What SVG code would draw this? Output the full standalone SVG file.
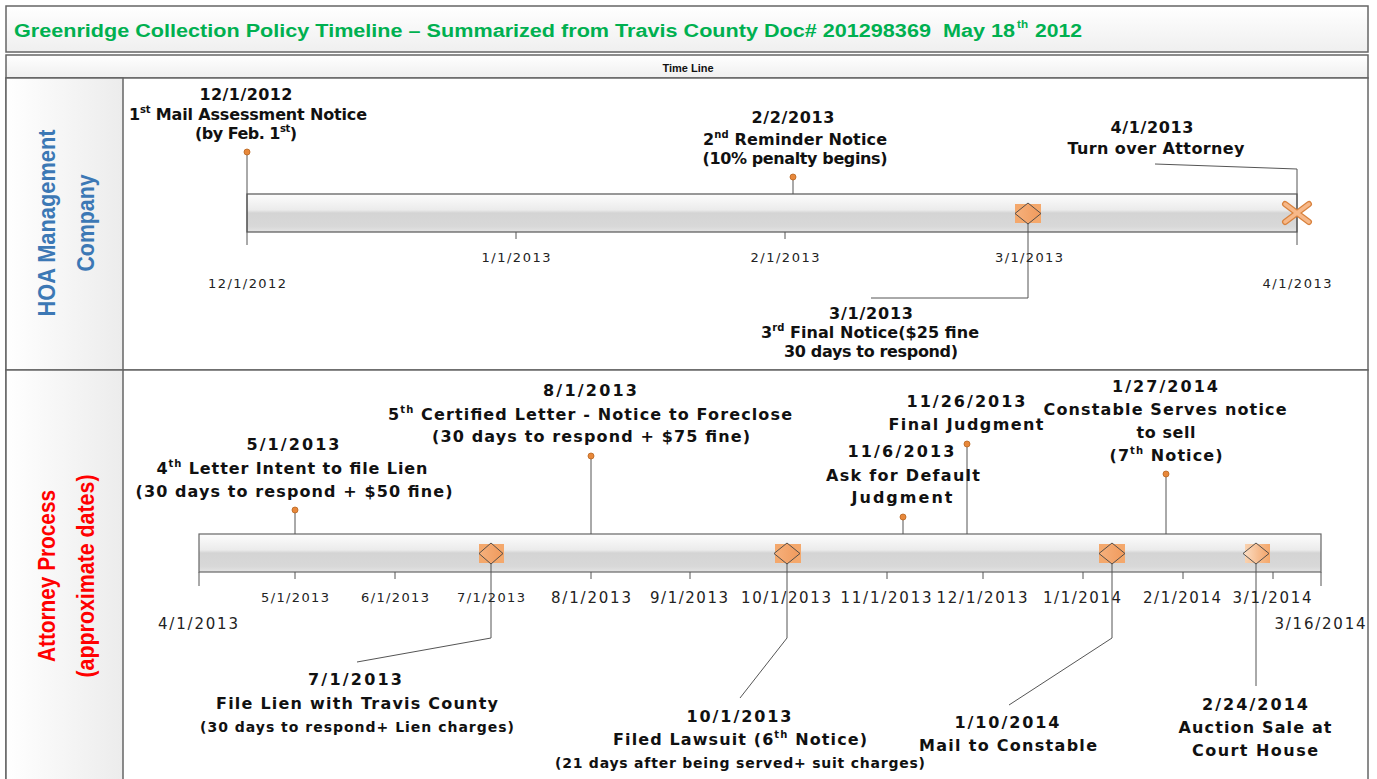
<svg xmlns="http://www.w3.org/2000/svg" width="1377" height="779" viewBox="0 0 1377 779">
<style>
.ev{font-family:"DejaVu Sans",Verdana,sans-serif;font-weight:bold;font-size:16px;fill:#111;text-anchor:middle}
.evs{font-family:"DejaVu Sans",Verdana,sans-serif;font-weight:bold;font-size:14px;fill:#111;text-anchor:middle}
.sup{font-size:10px}
.tk{font-family:"DejaVu Sans",Verdana,sans-serif;font-size:13px;fill:#222;text-anchor:middle}
.tkb{font-family:"DejaVu Sans",Verdana,sans-serif;font-size:15px;fill:#222;text-anchor:middle}
.lane{font-family:"Liberation Sans",Arial,sans-serif;font-weight:bold;font-size:23px;text-anchor:middle}
.ttl{font-family:"Liberation Sans",Arial,sans-serif;font-weight:bold;fill:#00B050}
.cn{stroke:#555;stroke-width:1;fill:none}
.frame{stroke:#666;stroke-width:1.5}
.dot{fill:#E8883A;stroke:#B8651F;stroke-width:0.8}
.sq{fill:#F4A86C}
.dm{fill:url(#dmg);stroke:#444;stroke-width:0.9}
</style>
<defs>
<linearGradient id="bar" x1="0" y1="0" x2="0" y2="1">
<stop offset="0" stop-color="#fdfdfd"/>
<stop offset="0.42" stop-color="#ebebeb"/>
<stop offset="0.5" stop-color="#d4d4d4"/>
<stop offset="0.85" stop-color="#d8d8d8"/>
<stop offset="1" stop-color="#e4e4e4"/>
</linearGradient>
<linearGradient id="hdr" x1="0" y1="0" x2="0" y2="1">
<stop offset="0" stop-color="#ffffff"/>
<stop offset="1" stop-color="#efefef"/>
</linearGradient>
<linearGradient id="col" x1="0" y1="0" x2="1" y2="0">
<stop offset="0" stop-color="#ffffff"/>
<stop offset="1" stop-color="#ececec"/>
</linearGradient>
<linearGradient id="dmg" x1="0" y1="0" x2="1" y2="0">
<stop offset="0" stop-color="#F6B17D"/>
<stop offset="1" stop-color="#F09A5C"/>
</linearGradient>
<linearGradient id="dml" x1="0" y1="0" x2="1" y2="0">
<stop offset="0" stop-color="#FBE0C8"/>
<stop offset="1" stop-color="#F3A469"/>
</linearGradient>
<linearGradient id="sql" x1="0" y1="0" x2="1" y2="0">
<stop offset="0" stop-color="#F9D2B0"/>
<stop offset="1" stop-color="#F4A86C"/>
</linearGradient>
</defs>

<rect width="1377" height="779" fill="#ffffff"/>

<g id="frame">
<rect x="6" y="6" width="1362" height="46" fill="url(#hdr)" class="frame"/>
<rect x="6" y="55" width="1362" height="23" fill="url(#hdr)" class="frame"/>
<rect x="6" y="78" width="1362" height="292" fill="#ffffff" class="frame"/>
<rect x="6" y="370" width="1362" height="420" fill="#ffffff" class="frame"/>
<rect x="6" y="78" width="117" height="292" fill="url(#col)" class="frame"/>
<rect x="6" y="370" width="117" height="420" fill="url(#col)" class="frame"/>
</g>

<g id="title">
<text class="ttl" x="14" y="37" xml:space="preserve" font-size="18" textLength="1001" lengthAdjust="spacingAndGlyphs">Greenridge Collection Policy Timeline – Summarized from Travis County Doc# 201298369  May 18</text>
<text class="ttl" x="1017" y="28" font-size="11" textLength="11" lengthAdjust="spacingAndGlyphs">th</text>
<text class="ttl" x="1035" y="37" font-size="18" textLength="47" lengthAdjust="spacingAndGlyphs">2012</text>
<text x="688" y="72" text-anchor="middle" font-family="Liberation Sans, Arial, sans-serif" font-weight="bold" font-size="11" fill="#111">Time Line</text>
</g>

<g id="lane-hoa">
<text class="lane" fill="#3C78B5" transform="translate(55,223) rotate(-90)" textLength="187" lengthAdjust="spacingAndGlyphs">HOA Management</text>
<text class="lane" fill="#3C78B5" transform="translate(94,223) rotate(-90)" textLength="97" lengthAdjust="spacingAndGlyphs">Company</text>
</g>
<g id="lane-attorney">
<text class="lane" fill="#FF0000" transform="translate(55,576) rotate(-90)" textLength="172" lengthAdjust="spacingAndGlyphs">Attorney Process</text>
<text class="lane" fill="#FF0000" transform="translate(94,576) rotate(-90)" textLength="203" lengthAdjust="spacingAndGlyphs">(approximate dates)</text>
</g>

<g id="bar-top">
<rect x="247" y="194" width="1050" height="38" fill="url(#bar)" stroke="#555" stroke-width="1.2"/>
</g>
<g id="bar-bottom">
<rect x="199" y="534" width="1122" height="38" fill="url(#bar)" stroke="#666" stroke-width="1.2"/>
</g>

<g id="connectors">
<line class="cn" x1="247" y1="152" x2="247" y2="245"/>
<line class="cn" x1="516" y1="232" x2="516" y2="239"/>
<line class="cn" x1="793" y1="177" x2="793" y2="194"/>
<line class="cn" x1="785" y1="232" x2="785" y2="239"/>
<polyline class="cn" points="1028,223 1028,298 871,298"/>
<polyline class="cn" points="1155,164 1297,169 1297,245"/>

<line class="cn" x1="199" y1="572" x2="199" y2="586"/>
<line class="cn" x1="1321" y1="572" x2="1321" y2="586"/>
<line class="cn" x1="295" y1="572" x2="295" y2="579"/>
<line class="cn" x1="395" y1="572" x2="395" y2="579"/>
<line class="cn" x1="591" y1="572" x2="591" y2="579"/>
<line class="cn" x1="690" y1="572" x2="690" y2="579"/>
<line class="cn" x1="887" y1="572" x2="887" y2="579"/>
<line class="cn" x1="983" y1="572" x2="983" y2="579"/>
<line class="cn" x1="1083" y1="572" x2="1083" y2="579"/>
<line class="cn" x1="1183" y1="572" x2="1183" y2="579"/>
<line class="cn" x1="1273" y1="572" x2="1273" y2="579"/>

<line class="cn" x1="295" y1="510" x2="295" y2="534"/>
<line class="cn" x1="591" y1="456" x2="591" y2="534"/>
<line class="cn" x1="903" y1="517" x2="903" y2="534"/>
<line class="cn" x1="967" y1="444" x2="967" y2="534"/>
<line class="cn" x1="1166" y1="474" x2="1166" y2="534"/>

<polyline class="cn" points="491,563 491,638 357,662"/>
<polyline class="cn" points="787,563 787,638 740,698"/>
<polyline class="cn" points="1112,563 1112,638 1009,705"/>
<line class="cn" x1="1256" y1="563" x2="1256" y2="686"/>
</g>

<g id="ticks">
<text class="tk" x="247" y="288" textLength="78" lengthAdjust="spacing">12/1/2012</text>
<text class="tk" x="516" y="262" textLength="69" lengthAdjust="spacing">1/1/2013</text>
<text class="tk" x="785" y="262" textLength="69" lengthAdjust="spacing">2/1/2013</text>
<text class="tk" x="1029" y="262" textLength="68" lengthAdjust="spacing">3/1/2013</text>
<text class="tk" x="1297" y="288" textLength="69" lengthAdjust="spacing">4/1/2013</text>

<text class="tkb" x="198" y="629" textLength="80" lengthAdjust="spacing">4/1/2013</text>
<text class="tk" x="295" y="602" textLength="68" lengthAdjust="spacing">5/1/2013</text>
<text class="tk" x="395" y="602" textLength="68" lengthAdjust="spacing">6/1/2013</text>
<text class="tk" x="491" y="602" textLength="68" lengthAdjust="spacing">7/1/2013</text>
<text class="tkb" x="591" y="603" textLength="80" lengthAdjust="spacing">8/1/2013</text>
<text class="tkb" x="689" y="603" textLength="78" lengthAdjust="spacing">9/1/2013</text>
<text class="tkb" x="786" y="603" textLength="90" lengthAdjust="spacing">10/1/2013</text>
<text class="tkb" x="886" y="603" textLength="91" lengthAdjust="spacing">11/1/2013</text>
<text class="tkb" x="982" y="603" textLength="91" lengthAdjust="spacing">12/1/2013</text>
<text class="tkb" x="1082" y="603" textLength="78" lengthAdjust="spacing">1/1/2014</text>
<text class="tkb" x="1182" y="603" textLength="78" lengthAdjust="spacing">2/1/2014</text>
<text class="tkb" x="1272" y="603" textLength="79" lengthAdjust="spacing">3/1/2014</text>
<text class="tkb" x="1320" y="629" textLength="91" lengthAdjust="spacing">3/16/2014</text>
</g>

<g id="ev-20121201">
<circle class="dot" cx="247" cy="152" r="3"/>
<text class="ev" x="246" y="100" textLength="93" lengthAdjust="spacing">12/1/2012</text>
<text class="ev" x="248" y="120" textLength="238" lengthAdjust="spacing">1<tspan class="sup" dy="-7">st</tspan><tspan dy="7"> Mail Assessment Notice</tspan></text>
<text class="ev" x="246" y="139" textLength="102" lengthAdjust="spacing">(by Feb. 1<tspan class="sup" dy="-7">st</tspan><tspan dy="7">)</tspan></text>
</g>
<g id="ev-20130202">
<circle class="dot" cx="793" cy="177" r="3"/>
<text class="ev" x="793" y="123" textLength="83" lengthAdjust="spacing">2/2/2013</text>
<text class="ev" x="795" y="145" textLength="184" lengthAdjust="spacing">2<tspan class="sup" dy="-7">nd</tspan><tspan dy="7"> Reminder Notice</tspan></text>
<text class="ev" x="795" y="164" textLength="185" lengthAdjust="spacing">(10% penalty begins)</text>
</g>
<g id="ev-20130301">
<rect class="sq" x="1015" y="204" width="26" height="19"/>
<polygon class="dm" points="1028,203 1041,213.5 1028,224 1015,213.5"/>
<text class="ev" x="871" y="319" textLength="84" lengthAdjust="spacing">3/1/2013</text>
<text class="ev" x="870" y="338" textLength="218" lengthAdjust="spacing">3<tspan class="sup" dy="-7">rd</tspan><tspan dy="7"> Final Notice($25 fine</tspan></text>
<text class="ev" x="871" y="357" textLength="174" lengthAdjust="spacing">30 days to respond)</text>
</g>
<g id="ev-20130401">
<path d="M1285,204 L1309,222 M1309,204 L1285,222" stroke="#D8823E" stroke-width="6" stroke-linecap="round" fill="none"/>
<path d="M1285,204 L1309,222 M1309,204 L1285,222" stroke="#F7B888" stroke-width="3.5" stroke-linecap="round" fill="none"/>
<text class="ev" x="1152" y="133" textLength="83" lengthAdjust="spacing">4/1/2013</text>
<text class="ev" x="1156" y="154" textLength="177" lengthAdjust="spacing">Turn over Attorney</text>
</g>

<g id="ev-20130501">
<circle class="dot" cx="295" cy="510" r="3"/>
<text class="ev" x="293" y="450" textLength="93" lengthAdjust="spacing">5/1/2013</text>
<text class="ev" x="292" y="474" textLength="271" lengthAdjust="spacing">4<tspan class="sup" dy="-7">th</tspan><tspan dy="7"> Letter Intent to file Lien</tspan></text>
<text class="ev" x="294" y="497" textLength="317" lengthAdjust="spacing">(30 days to respond + $50 fine)</text>
</g>
<g id="ev-20130701">
<rect class="sq" x="479" y="544" width="25" height="19"/>
<polygon class="dm" points="491,543 503,553.5 491,564 479,553.5"/>
<text class="ev" x="355" y="685" textLength="94" lengthAdjust="spacing">7/1/2013</text>
<text class="ev" x="357" y="709" textLength="282" lengthAdjust="spacing">File Lien with Travis County</text>
<text class="evs" x="357" y="732" textLength="314" lengthAdjust="spacing">(30 days to respond+ Lien charges)</text>
</g>
<g id="ev-20130801">
<circle class="dot" cx="591" cy="456" r="3"/>
<text class="ev" x="590" y="396" textLength="94" lengthAdjust="spacing">8/1/2013</text>
<text class="ev" x="590" y="420" textLength="404" lengthAdjust="spacing">5<tspan class="sup" dy="-7">th</tspan><tspan dy="7"> Certified Letter - Notice to Foreclose</tspan></text>
<text class="ev" x="591" y="442" textLength="318" lengthAdjust="spacing">(30 days to respond + $75 fine)</text>
</g>
<g id="ev-20131001">
<rect class="sq" x="775" y="544" width="26" height="19"/>
<polygon class="dm" points="787,543 800,553.5 787,564 774,553.5"/>
<text class="ev" x="739" y="722" textLength="105" lengthAdjust="spacing">10/1/2013</text>
<text class="ev" x="740" y="745" textLength="254" lengthAdjust="spacing">Filed Lawsuit (6<tspan class="sup" dy="-7">th</tspan><tspan dy="7"> Notice)</tspan></text>
<text class="evs" x="740" y="768" textLength="370" lengthAdjust="spacing">(21 days after being served+ suit charges)</text>
</g>
<g id="ev-20131106">
<circle class="dot" cx="903" cy="517" r="3"/>
<text class="ev" x="901" y="457" textLength="107" lengthAdjust="spacing">11/6/2013</text>
<text class="ev" x="903" y="481" textLength="154" lengthAdjust="spacing">Ask for Default</text>
<text class="ev" x="902" y="503" textLength="101" lengthAdjust="spacing">Judgment</text>
</g>
<g id="ev-20131126">
<circle class="dot" cx="967" cy="444" r="3"/>
<text class="ev" x="966" y="407" textLength="119" lengthAdjust="spacing">11/26/2013</text>
<text class="ev" x="966" y="430" textLength="155" lengthAdjust="spacing">Final Judgment</text>
</g>
<g id="ev-20140110">
<rect class="sq" x="1099" y="544" width="26" height="19"/>
<polygon class="dm" points="1112,543 1125,553.5 1112,564 1099,553.5"/>
<text class="ev" x="1007" y="728" textLength="105" lengthAdjust="spacing">1/10/2014</text>
<text class="ev" x="1008" y="751" textLength="178" lengthAdjust="spacing">Mail to Constable</text>
</g>
<g id="ev-20140127">
<circle class="dot" cx="1166" cy="474" r="3"/>
<text class="ev" x="1165" y="392" textLength="106" lengthAdjust="spacing">1/27/2014</text>
<text class="ev" x="1165" y="415" textLength="243" lengthAdjust="spacing">Constable Serves notice</text>
<text class="ev" x="1166" y="438" textLength="59" lengthAdjust="spacing">to sell</text>
<text class="ev" x="1166" y="461" textLength="113" lengthAdjust="spacing">(7<tspan class="sup" dy="-7">th</tspan><tspan dy="7"> Notice)</tspan></text>
</g>
<g id="ev-20140224">
<rect x="1245" y="544" width="25" height="19" fill="url(#sql)"/>
<polygon points="1256,543 1269,553.5 1256,564 1243,553.5" fill="url(#dml)" stroke="#444" stroke-width="0.9"/>
<text class="ev" x="1255" y="710" textLength="106" lengthAdjust="spacing">2/24/2014</text>
<text class="ev" x="1255" y="733" textLength="153" lengthAdjust="spacing">Auction Sale at</text>
<text class="ev" x="1255" y="756" textLength="126" lengthAdjust="spacing">Court House</text>
</g>
</svg>
